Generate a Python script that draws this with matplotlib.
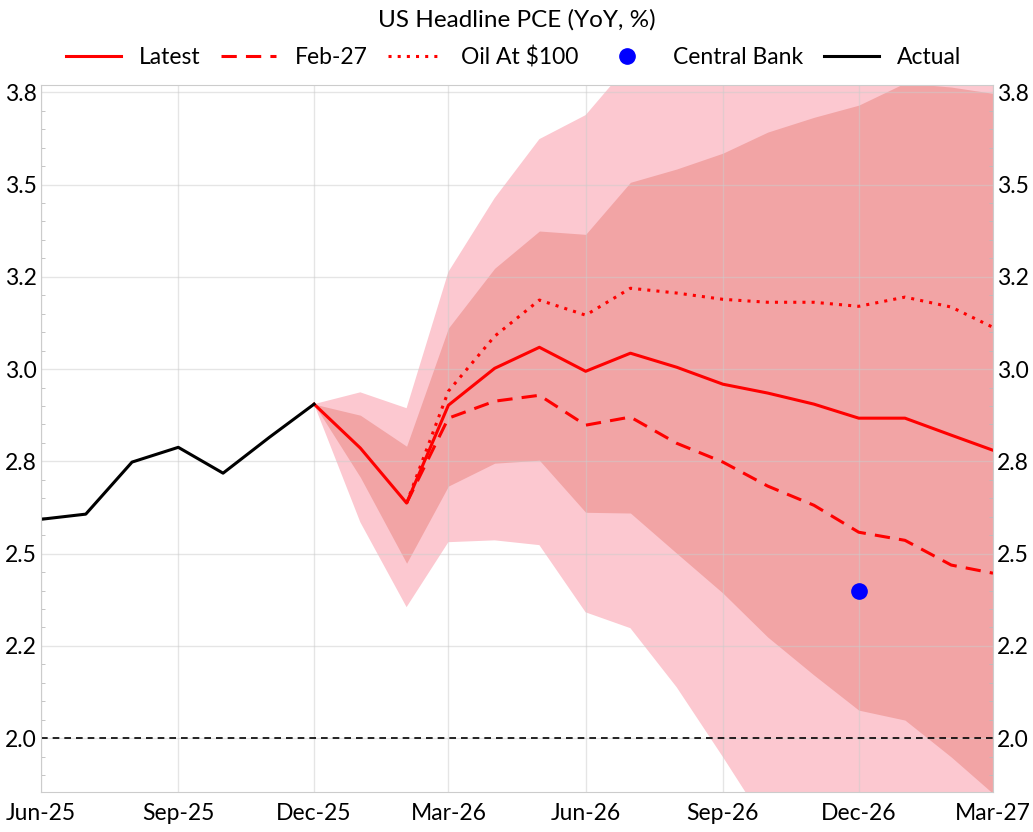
import pandas as pd
import matplotlib
matplotlib.use("Agg")
from matplotlib import pyplot as plt
from matplotlib.ticker import MultipleLocator, FormatStrFormatter
import matplotlib.dates as mdates

plt.rcParams['font.family'] = ['Lato', 'DejaVu Sans']

### data ###
actual_months = pd.date_range("2025-06-01", "2025-12-01", freq="MS")
actual = [2.593, 2.607, 2.748, 2.788, 2.718, 2.815, 2.905]

fc_months = pd.date_range("2025-12-01", "2027-03-01", freq="MS")
latest = [2.905, 2.786, 2.637, 2.902, 3.002, 3.059, 2.994, 3.043, 3.005, 2.959,
          2.935, 2.905, 2.867, 2.867, 2.821, 2.780]
outer_hi = [2.905, 2.937, 2.894, 3.263, 3.463, 3.623, 3.688, 3.83, 3.90, 3.95,
            4.00, 4.05, 4.10, 4.15, 4.20, 4.25]
outer_lo = [2.905, 2.585, 2.355, 2.531, 2.536, 2.523, 2.341, 2.298, 2.138, 1.949,
            1.76, 1.60, 1.45, 1.35, 1.25, 1.15]
inner_hi = [2.905, 2.875, 2.791, 3.111, 3.273, 3.374, 3.365, 3.506, 3.542, 3.585,
            3.642, 3.682, 3.715, 3.775, 3.764, 3.747]
inner_lo = [2.905, 2.707, 2.474, 2.683, 2.745, 2.753, 2.612, 2.610, 2.501, 2.393,
            2.274, 2.171, 2.076, 2.049, 1.949, 1.850]

alt_months = pd.date_range("2026-02-01", "2027-03-01", freq="MS")
feb27 = [2.637, 2.867, 2.913, 2.929, 2.848, 2.870, 2.799, 2.748, 2.683, 2.631,
         2.558, 2.536, 2.469, 2.447]
oil100 = [2.637, 2.940, 3.089, 3.187, 3.146, 3.219, 3.206, 3.189, 3.181, 3.181,
          3.170, 3.195, 3.168, 3.113]

cb_month = pd.Timestamp("2026-12-01")
cb_value = 2.398
target = 2.0

fig = plt.figure(figsize=(10.33, 8.32), dpi=100)
ax = fig.add_axes([0.0397, 0.048, 0.9216, 0.85])

ax.fill_between(fc_months, outer_lo, outer_hi, color='#fcc8d0', lw=0)
ax.fill_between(fc_months, inner_lo, inner_hi, color='#f2a4a5', lw=0)

ax.axhline(target, color='black', ls=(0, (4, 3)), lw=1.2, zorder=2)
ax.plot(fc_months, latest, color='red', lw=2.2, label='Latest')
ax.plot(alt_months, feb27, color='red', lw=2.2, ls=(0, (5, 3)), label='Feb-27')
ax.plot(alt_months, oil100, color='red', lw=2.2, ls=(0, (1, 2)), label=r'Oil At \$100')
ax.plot([cb_month], [cb_value], 'o', color='blue', ms=11, ls='none', label='Central Bank')
ax.plot(actual_months, actual, color='black', lw=2.2, label='Actual')

ax.set_xlim(pd.Timestamp("2025-06-01"), pd.Timestamp("2027-03-01"))
ax.set_ylim(1.854, 3.77)
ax.xaxis.set_major_locator(mdates.MonthLocator(bymonth=[3, 6, 9, 12]))
ax.xaxis.set_major_formatter(mdates.DateFormatter('%b-%y'))
ax.yaxis.set_major_locator(MultipleLocator(0.25))
ax.yaxis.set_minor_locator(MultipleLocator(0.05))
ax.yaxis.set_major_formatter(FormatStrFormatter('%.1f'))

ax.set_axisbelow('line')
ax.grid(True, color='#cccccc', alpha=0.5, lw=1)
for s in ax.spines.values():
    s.set_color('#cccccc')
ax.tick_params(axis='both', which='both', direction='in', colors='#bbbbbb',
               labelcolor='black', labelsize=16.5)
ax.tick_params(axis='y', which='both', right=True, labelright=True, pad=3)
ax.tick_params(axis='y', which='major', length=0)
ax.tick_params(axis='y', which='minor', length=3)
ax.tick_params(axis='x', which='major', length=0, pad=8)

fig.text(0.5, 0.976, 'US Headline PCE (YoY, %)', ha='center', va='center', fontsize=17.5)
fig.legend(loc='center', bbox_to_anchor=(0.497, 0.931), ncol=5, frameon=False,
           fontsize=16.5, handlelength=2.4, columnspacing=0.9, handletextpad=0.8)

fig.savefig("out.png", dpi=100)
